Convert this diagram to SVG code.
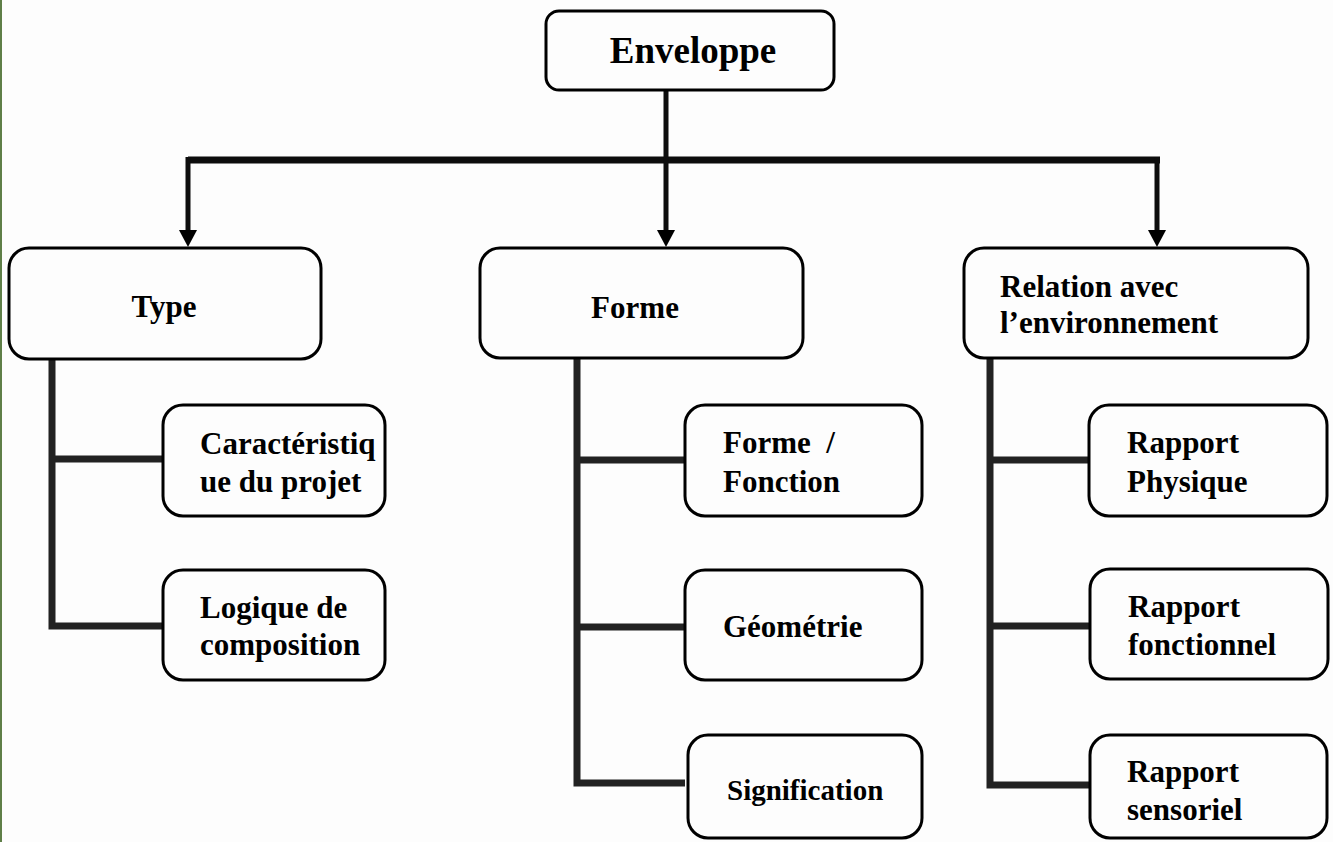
<svg xmlns="http://www.w3.org/2000/svg" width="1333" height="842" viewBox="0 0 1333 842">
  <style>
    .box { fill: #fdfdfd; stroke: #000; stroke-width: 3; }
    .lbl { font-family: "Liberation Serif", "Times New Roman", serif; font-weight: bold; font-size: 31px; fill: #000; }
    .big { font-size: 37px; }
    .small { font-size: 29px; }
    .trunk { fill: none; stroke: #0d0d0d; stroke-linecap: butt; }
    .head { fill: #000; }
    .tree { fill: none; stroke: #222; stroke-width: 7; stroke-linejoin: miter; }
  </style>

  <rect width="1333" height="842" fill="#fdfdfd"/>
  <rect x="0" y="0" width="2" height="842" fill="#5f7f48"/>

  <!-- connectors -->
  <g id="connectors">
    <line class="trunk" x1="188" y1="160" x2="1160" y2="160" stroke-width="7"/>
    <path d="M666 90 V230" class="trunk" stroke-width="5"/>
    <path d="M188 157 V230" class="trunk" stroke-width="5"/>
    <path d="M1157 157 V230" class="trunk" stroke-width="5"/>
    <path class="head" d="M657 230 L675 230 L666 247 Z"/>
    <path class="head" d="M179 230 L197 230 L188 247 Z"/>
    <path class="head" d="M1148 230 L1166 230 L1157 247 Z"/>

    <path class="tree" d="M52 359 V626 H163 M52 459 H163"/>
    <path class="tree" d="M577 358 V783 H685 M577 460 H685 M577 627 H685"/>
    <path class="tree" d="M990 358 V785 H1090 M990 460 H1090 M990 626 H1090"/>
  </g>

  <!-- root -->
  <g id="enveloppe">
    <rect class="box" x="546" y="11" width="288" height="79" rx="13"/>
    <text class="lbl big" x="693" y="63" text-anchor="middle">Enveloppe</text>
  </g>

  <!-- level 1 -->
  <g id="type">
    <rect class="box" x="9" y="248" width="312" height="111" rx="20"/>
    <text class="lbl" x="164" y="317" text-anchor="middle">Type</text>
  </g>
  <g id="forme">
    <rect class="box" x="480" y="248" width="323" height="110" rx="20"/>
    <text class="lbl" x="635" y="318" text-anchor="middle">Forme</text>
  </g>
  <g id="relation">
    <rect class="box" x="964" y="248" width="344" height="110" rx="20"/>
    <text class="lbl" x="1000" y="297">Relation avec</text>
    <text class="lbl" x="1000" y="333">l’environnement</text>
  </g>

  <!-- Type children -->
  <g id="caracteristique">
    <rect class="box" x="163" y="405" width="222" height="111" rx="20"/>
    <text class="lbl" x="200" y="454">Caractéristiq</text>
    <text class="lbl" x="200" y="492">ue du projet</text>
  </g>
  <g id="logique">
    <rect class="box" x="163" y="570" width="222" height="110" rx="20"/>
    <text class="lbl" x="200" y="618">Logique de</text>
    <text class="lbl" x="200" y="655">composition</text>
  </g>

  <!-- Forme children -->
  <g id="forme-fonction">
    <rect class="box" x="685" y="405" width="237" height="111" rx="20"/>
    <text class="lbl" x="723" y="453" xml:space="preserve">Forme  /</text>
    <text class="lbl" x="723" y="492">Fonction</text>
  </g>
  <g id="geometrie">
    <rect class="box" x="685" y="570" width="237" height="110" rx="20"/>
    <text class="lbl" x="723" y="637">Géométrie</text>
  </g>
  <g id="signification">
    <rect class="box" x="688" y="735" width="234" height="103" rx="20"/>
    <text class="lbl small" x="727" y="800">Signification</text>
  </g>

  <!-- Relation children -->
  <g id="rapport-physique">
    <rect class="box" x="1089" y="405" width="238" height="111" rx="20"/>
    <text class="lbl" x="1127" y="453">Rapport</text>
    <text class="lbl" x="1127" y="492">Physique</text>
  </g>
  <g id="rapport-fonctionnel">
    <rect class="box" x="1090" y="569" width="238" height="110" rx="20"/>
    <text class="lbl" x="1128" y="617">Rapport</text>
    <text class="lbl" x="1128" y="655">fonctionnel</text>
  </g>
  <g id="rapport-sensoriel">
    <rect class="box" x="1090" y="735" width="237" height="103" rx="20"/>
    <text class="lbl" x="1127" y="782">Rapport</text>
    <text class="lbl" x="1127" y="820">sensoriel</text>
  </g>
</svg>
